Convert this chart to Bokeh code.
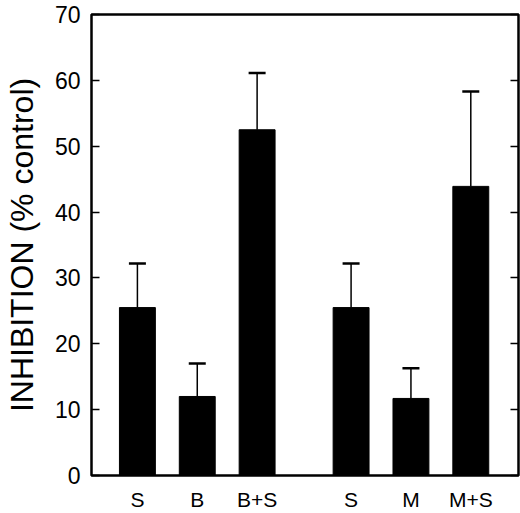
# Bar chart of inhibition (% control) with upward-only error bars.
from bokeh.embed import file_html
from bokeh.models import (ColumnDataSource, FixedTicker, LinearAxis, Range1d,
                          TeeHead, Whisker)
from bokeh.plotting import figure
from bokeh.resources import INLINE

# Data
labels = ["S", "B", "B+S", "S", "M", "M+S"]
positions = [1.0, 2.0, 3.0, 4.57, 5.57, 6.57]
inhibition = [25.5, 12.0, 52.5, 25.5, 11.7, 43.9]
sem = [6.7, 5.0, 8.6, 6.7, 4.6, 14.4]
y_ticks = [0, 10, 20, 30, 40, 50, 60, 70]

FONT = "Liberation Sans"

source = ColumnDataSource(data={
    'x': positions,
    'top': inhibition,
    'upper': [v + e for v, e in zip(inhibition, sem)],
})

p = figure(width=520, height=513, output_backend="svg", toolbar_location=None,
           x_range=Range1d(0.233, 7.367), y_range=Range1d(0, 70),
           min_border_left=90, min_border_right=2, min_border_top=14,
           min_border_bottom=35)

p.xgrid.visible = False
p.ygrid.visible = False
p.outline_line_color = "black"
p.outline_line_width = 2.5
p.background_fill_color = "white"
p.border_fill_color = "white"

# Bars
p.vbar(x='x', top='top', bottom=0, width=0.6, source=source,
       fill_color="black", line_color="black")

# Error bars, upward only
whisker = Whisker(base='x', lower='top', upper='upper', source=source,
                  line_color="black", line_width=1.5,
                  upper_head=TeeHead(size=17, line_color="black", line_width=2.5),
                  lower_head=None)
p.add_layout(whisker)

# Left axis: labels, ticks pointing inwards
yaxis = p.yaxis[0]
yaxis.ticker = FixedTicker(ticks=y_ticks)
yaxis.axis_line_color = None
yaxis.major_tick_in = 8
yaxis.major_tick_out = 0
yaxis.major_tick_line_width = 1.5
yaxis.minor_tick_line_color = None
yaxis.major_label_text_font = FONT
yaxis.major_label_text_font_size = "23px"
yaxis.major_label_text_color = "black"
yaxis.major_label_standoff = 11
yaxis.axis_label = "INHIBITION (% control)"
yaxis.axis_label_text_font = FONT
yaxis.axis_label_text_font_size = "32px"
yaxis.axis_label_text_font_style = "normal"
yaxis.axis_label_text_color = "black"
yaxis.axis_label_standoff = 12

# Right axis: ticks only, labels not painted
raxis = LinearAxis(ticker=FixedTicker(ticks=y_ticks))
raxis.axis_line_color = None
raxis.major_tick_in = 8
raxis.major_tick_out = 0
raxis.major_tick_line_width = 1.5
raxis.minor_tick_line_color = None
raxis.major_label_text_color = None
raxis.major_label_text_font_size = "1px"
raxis.major_label_standoff = 0
p.add_layout(raxis, "right")

# Bottom axis: category labels, no ticks
xaxis = p.xaxis[0]
xaxis.ticker = FixedTicker(ticks=positions)
xaxis.major_label_overrides = {pos: lab for pos, lab in zip(positions, labels)}
xaxis.axis_line_color = None
xaxis.major_tick_line_color = None
xaxis.major_tick_out = 0
xaxis.major_tick_in = 0
xaxis.minor_tick_line_color = None
xaxis.minor_tick_out = 0
xaxis.major_label_text_font = FONT
xaxis.major_label_text_font_size = "21px"
xaxis.major_label_text_color = "black"
xaxis.major_label_standoff = 12

open("out.html", "w").write(file_html(p, INLINE))
